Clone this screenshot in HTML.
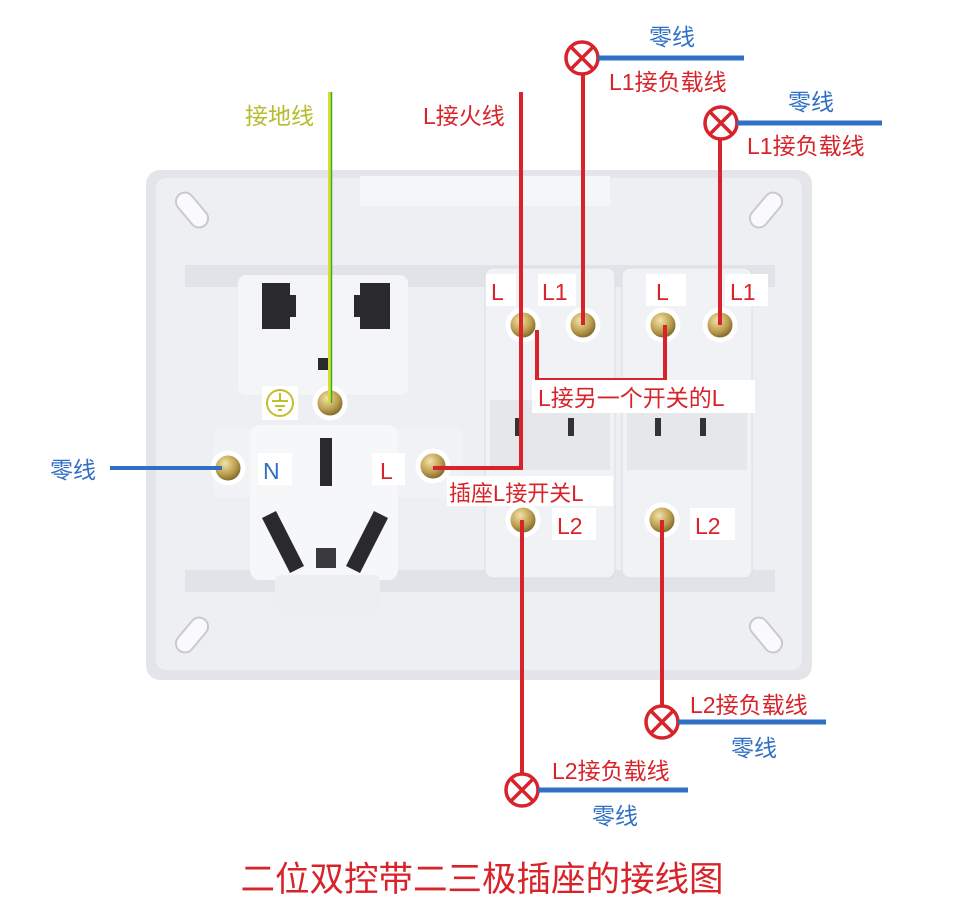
<!DOCTYPE html>
<html><head><meta charset="utf-8"><style>
html,body{margin:0;padding:0;background:#fff;}
svg{display:block}
text{font-family:"Liberation Sans","Noto Sans CJK SC",sans-serif;}
</style></head><body>
<svg width="960" height="920" viewBox="0 0 960 920" xmlns="http://www.w3.org/2000/svg">
<defs>
<radialGradient id="g" cx="40%" cy="35%" r="65%"><stop offset="0" stop-color="#f3e2a8"/><stop offset="0.6" stop-color="#b89a4a"/><stop offset="1" stop-color="#6e5a26"/></radialGradient>
</defs>
<rect x="146" y="170" width="666" height="510" rx="14" fill="#e4e5ea"/>
<rect x="156" y="178" width="646" height="492" rx="10" fill="#eeeff3"/>
<rect x="360" y="176" width="250" height="30" fill="#f5f6f8"/>
<rect x="185" y="265" width="590" height="22" fill="#e2e3e8"/>
<rect x="185" y="570" width="590" height="22" fill="#e2e3e8"/>
<g fill="#fafafc" stroke="#c9cad0" stroke-width="2">
<rect x="183" y="190" width="18" height="40" rx="9" transform="rotate(-40 192 210)"/>
<rect x="757" y="190" width="18" height="40" rx="9" transform="rotate(40 766 210)"/>
<rect x="183" y="615" width="18" height="40" rx="9" transform="rotate(40 192 635)"/>
<rect x="757" y="615" width="18" height="40" rx="9" transform="rotate(-40 766 635)"/>
</g>
<rect x="238" y="275" width="170" height="120" rx="8" fill="#f4f5f7"/>
<path d="M262 283h28v12h6v22h-6v12h-28z" fill="#2a2a2e"/>
<path d="M360 283h30v46h-30v-12h-6v-22h6z" fill="#2a2a2e"/>
<rect x="318" y="358" width="10" height="12" fill="#2a2a2e"/>
<rect x="213" y="428" width="250" height="70" rx="6" fill="#f1f2f5"/>
<rect x="250" y="425" width="148" height="155" rx="10" fill="#f6f7f9"/>
<rect x="275" y="575" width="105" height="35" rx="6" fill="#eceef1"/>
<rect x="320" y="438" width="12" height="48" fill="#2a2a2e"/>
<path d="M262 518l14-7 28 55-14 7z" fill="#2a2a2e"/>
<path d="M388 518l-14-7-28 55 14 7z" fill="#2a2a2e"/>
<rect x="316" y="548" width="20" height="20" fill="#3a3a3e"/>
<rect x="485" y="268" width="130" height="310" rx="8" fill="#f1f2f5" stroke="#dcdde2"/>
<rect x="622" y="268" width="130" height="310" rx="8" fill="#f1f2f5" stroke="#dcdde2"/>
<rect x="490" y="400" width="120" height="70" fill="#e6e7eb"/>
<rect x="627" y="400" width="120" height="70" fill="#e6e7eb"/>
<rect x="515" y="418" width="6" height="18" fill="#333"/><rect x="568" y="418" width="6" height="18" fill="#333"/>
<rect x="655" y="418" width="6" height="18" fill="#333"/><rect x="700" y="418" width="6" height="18" fill="#333"/>
<g stroke="#fff" stroke-width="5">
<circle cx="523" cy="325" r="15" fill="url(#g)"/>
<circle cx="583" cy="325" r="15" fill="url(#g)"/>
<circle cx="663" cy="325" r="15" fill="url(#g)"/>
<circle cx="720" cy="325" r="15" fill="url(#g)"/>
<circle cx="330" cy="403" r="15" fill="url(#g)"/>
<circle cx="228" cy="468" r="15" fill="url(#g)"/>
<circle cx="433" cy="466" r="15" fill="url(#g)"/>
<circle cx="523" cy="520" r="15" fill="url(#g)"/>
<circle cx="662" cy="520" r="15" fill="url(#g)"/>
</g>
<rect x="262" y="386" width="36" height="34" fill="#fff"/>
<circle cx="280" cy="403" r="13" fill="none" stroke="#c2c02a" stroke-width="2"/>
<path d="M280 393v8M272 401h16M275 406h10M278 410h4" stroke="#c2c02a" stroke-width="2"/>
<line x1="330" y1="92" x2="330" y2="403" stroke="#d6e02a" stroke-width="4"/>
<line x1="331.5" y1="92" x2="331.5" y2="403" stroke="#3ca83a" stroke-width="1.5"/>
<g stroke="#d8232a" stroke-width="4" fill="none">
<polyline points="521,92 521,468 433,468"/>
<polyline points="537,330 537,380 665,380 665,325"/>
<line x1="583" y1="75" x2="583" y2="325"/>
<line x1="720" y1="140" x2="720" y2="325"/>
<line x1="522" y1="520" x2="522" y2="773"/>
<line x1="662" y1="520" x2="662" y2="705"/>
<g stroke-width="3.5"><circle cx="582" cy="58" r="16"/><path d="M571 47l22 22M593 47l-22 22"/>
<circle cx="721" cy="123" r="16"/><path d="M710 112l22 22M732 112l-22 22"/>
<circle cx="662" cy="722" r="16"/><path d="M651 711l22 22M673 711l-22 22"/>
<circle cx="522" cy="790" r="16"/><path d="M511 779l22 22M533 779l-22 22"/></g>
</g>
<g stroke="#2f6fc4" stroke-width="5">
<line x1="598" y1="58" x2="744" y2="58"/>
<line x1="737" y1="123" x2="882" y2="123"/>
<line x1="678" y1="722" x2="826" y2="722"/>
<line x1="538" y1="790" x2="688" y2="790"/>
<line x1="110" y1="468" x2="222" y2="468" stroke-width="4"/>
</g>
<g fill="#fff">
<rect x="486" y="274" width="30" height="32"/><rect x="538" y="274" width="38" height="32"/>
<rect x="646" y="274" width="40" height="32"/><rect x="725" y="274" width="43" height="32"/>
<rect x="258" y="453" width="34" height="32"/><rect x="372" y="453" width="33" height="32"/>
<rect x="552" y="508" width="44" height="32"/><rect x="690" y="508" width="45" height="32"/>
<rect x="532" y="380" width="223" height="33"/><rect x="447" y="476" width="166" height="30"/>
</g>
<g font-size="23" fill="#d8232a">
<text x="491" y="300">L</text><text x="542" y="300">L1</text>
<text x="656" y="300">L</text><text x="730" y="300">L1</text>
<text x="380" y="479">L</text>
<text x="557" y="534">L2</text><text x="695" y="534">L2</text>
<text x="538" y="406">L接另一个开关的L</text>
<text x="449" y="501" font-size="22">插座L接开关L</text>
<text x="423" y="124">L接火线</text>
<text x="609" y="90">L1接负载线</text>
<text x="747" y="154">L1接负载线</text>
<text x="690" y="713">L2接负载线</text>
<text x="552" y="779">L2接负载线</text>
</g>
<text x="263" y="479" font-size="23" fill="#2f6fc4">N</text>
<g font-size="23" fill="#2f6fc4">
<text x="649" y="45">零线</text><text x="788" y="110">零线</text>
<text x="731" y="756">零线</text><text x="592" y="824">零线</text>
<text x="50" y="478">零线</text>
</g>
<text x="245" y="124" font-size="23" fill="#b5bd2c">接地线</text>
<text x="482" y="891" font-size="34.5" fill="#d8232a" text-anchor="middle">二位双控带二三极插座的接线图</text>
</svg>
</body></html>
